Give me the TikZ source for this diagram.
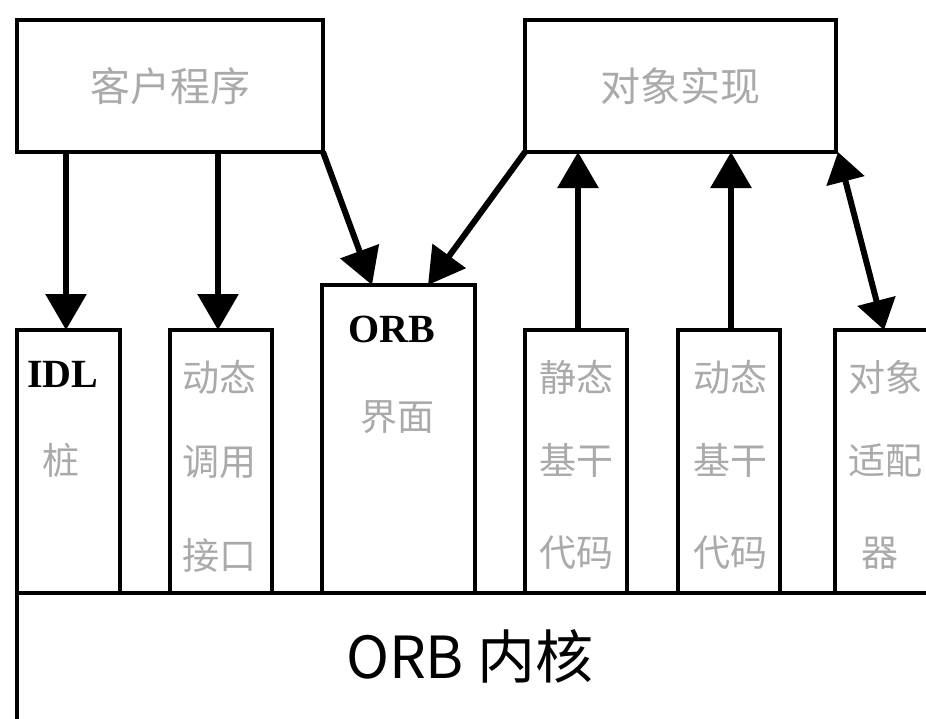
\documentclass[tikz,border=0pt]{standalone}
\usepackage{fontspec}
\setmainfont{Noto Sans CJK SC}
\newfontfamily\serifb{Liberation Serif}
\usetikzlibrary{arrows.meta}
\definecolor{txtgray}{RGB}{170,170,170}
\tikzset{
  box/.style={draw, line width=3.5pt, inner sep=0pt, outer sep=0pt},
  arr/.style={line width=6pt, -{Triangle[width=40pt,length=36pt]}},
  darr/.style={line width=6pt, {Triangle[width=38pt,length=30pt]}-{Triangle[width=38pt,length=30pt]}},
  cjkbig/.style={text=txtgray, font=\fontsize{40}{40}\selectfont},
  cjk/.style={text=txtgray, font=\fontsize{37}{37}\selectfont, inner sep=0pt},
  latb/.style={text=black, font=\serifb\bfseries\fontsize{40}{40}\selectfont, inner sep=0pt},
  coretxt/.style={text=black, font=\fontsize{58}{58}\selectfont}
}
\begin{document}
\begin{tikzpicture}[x=1pt,y=-1pt]
\clip (0,0) rectangle (926,718);
\fill[white] (0,0) rectangle (926,718);
% top boxes
\node[box, minimum width=306pt, minimum height=132pt, cjkbig] (client) at (170,86) {客户程序};
\node[box, minimum width=311pt, minimum height=132pt, cjkbig] (impl) at (680.5,86) {对象实现};
% core
\node[box, minimum width=943pt, minimum height=167pt] (core) at (488.5,676.5) {};
\node[coretxt] (coret) at (470,656) {ORB\hspace{14pt}内核};
% bottom column boxes
\node[box, minimum width=103pt, minimum height=263pt] (idl) at (68.5,461.5) {};
\node[box, minimum width=102pt, minimum height=263pt] (dii) at (221,461.5) {};
\node[box, minimum width=153pt, minimum height=308pt] (orbif) at (398.5,439) {};
\node[box, minimum width=102pt, minimum height=263pt] (ssk) at (576,461.5) {};
\node[box, minimum width=102pt, minimum height=263pt] (dsk) at (729,461.5) {};
\node[box, minimum width=102pt, minimum height=263pt] (adapter) at (886,461.5) {};
% texts in columns
\node[latb] (idlt) at (63,374) {IDL};
\node[cjk] (idlt2) at (61,460) {桩};
\node[cjk] (diit1) at (219,377) {动态};
\node[cjk] (diit2) at (219,462) {调用};
\node[cjk] (diit3) at (219,555) {接口};
\node[latb] (orbt1) at (392,329) {ORB};
\node[cjk] (orbt2) at (397,417) {界面};
\node[cjk] (sskt1) at (576,377) {静态};
\node[cjk] (sskt2) at (576,460) {基干};
\node[cjk] (sskt3) at (576,553) {代码};
\node[cjk] (dskt1) at (730,377) {动态};
\node[cjk] (dskt2) at (730,460) {基干};
\node[cjk] (dskt3) at (730,553) {代码};
\node[cjk] (adt1) at (885,377) {对象};
\node[cjk] (adt2) at (885,460) {适配};
\node[cjk] (adt3) at (880,553) {器};
% connectors
\draw[arr] ([xshift=-2.5pt]idl.north |- client.south) -- ([xshift=-2.5pt]idl.north);
\draw[arr] ([xshift=-3pt]dii.north |- client.south) -- ([xshift=-3pt]dii.north);
\draw[arr] (client.south east) -- ([xshift=50pt]orbif.north west);
\draw[arr] (impl.south west) -- ([xshift=-47pt]orbif.north east);
\draw[arr] ([xshift=2pt]ssk.north) -- ([xshift=2pt]ssk.north |- impl.south);
\draw[arr] ([xshift=2pt]dsk.north) -- ([xshift=2pt]dsk.north |- impl.south);
\draw[darr] ([xshift=2pt]impl.south east) -- ([xshift=-2pt]adapter.north);
\end{tikzpicture}
\end{document}
